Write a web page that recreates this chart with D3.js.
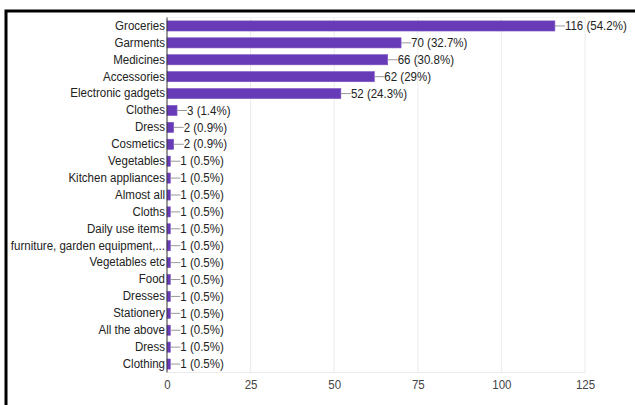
<!DOCTYPE html>
<html><head><meta charset="utf-8">
<script src="https://cdn.jsdelivr.net/npm/d3@7"></script>
<style>
body{margin:0;background:#fff;}
svg{display:block;font-family:"Liberation Sans",Arial,sans-serif;}
</style></head>
<body>
<svg id="c" width="635" height="405"></svg>
<script>
const categories = ["Groceries","Garments","Medicines","Accessories","Electronic gadgets","Clothes","Dress","Cosmetics","Vegetables","Kitchen appliances","Almost all","Cloths","Daily use items","furniture, garden equipment,...","Vegetables etc","Food","Dresses","Stationery","All the above","Dress","Clothing"];
const values = [116,70,66,62,52,3,2,2,1,1,1,1,1,1,1,1,1,1,1,1,1];
const percents = ["54.2%","32.7%","30.8%","29%","24.3%","1.4%","0.9%","0.9%","0.5%","0.5%","0.5%","0.5%","0.5%","0.5%","0.5%","0.5%","0.5%","0.5%","0.5%","0.5%","0.5%"];
const xTicks = [0,25,50,75,100,125];
const FS = 12, SX = 0.96;

const svg = d3.select("#c");
// outer frame
svg.append("rect").attr("x",6).attr("y",11).attr("width",700).attr("height",500)
  .attr("fill","none").attr("stroke","#000").attr("stroke-width",3);

const m = {left:167, right:585, top:17.5, bottom:372.5};
const x = d3.scaleLinear().domain([0,125]).range([m.left,m.right]);
const idx = d3.range(categories.length);
const y = d3.scaleBand().domain(idx).range([m.top,m.bottom]).paddingInner(0.4).paddingOuter(0.2);

// gridlines
svg.append("g").selectAll("line").data(xTicks.slice(1)).join("line")
  .attr("x1",d=>x(d)).attr("x2",d=>x(d)).attr("y1",m.top).attr("y2",m.bottom)
  .attr("stroke","#ebebeb").attr("stroke-width",1);
svg.append("line").attr("x1",m.left).attr("x2",m.right).attr("y1",m.bottom).attr("y2",m.bottom)
  .attr("stroke","#ebebeb");
svg.append("line").attr("x1",m.left).attr("x2",m.right).attr("y1",m.top).attr("y2",m.top)
  .attr("stroke","#f3f3f3");

// x axis
const xa = svg.append("g").attr("transform",`translate(0,${m.bottom})`)
  .call(d3.axisBottom(x).tickValues(xTicks).tickSize(0).tickPadding(8));
xa.select(".domain").remove();
xa.selectAll("text").attr("fill","#444").attr("font-size",FS)
  .attr("font-family","Liberation Sans, Arial, sans-serif")
  .attr("transform",`scale(${SX},1)`);

// bars
svg.append("g").selectAll("rect").data(idx).join("rect")
  .attr("x",x(0)).attr("y",i=>y(i)).attr("width",i=>x(values[i])-x(0)).attr("height",y.bandwidth())
  .attr("fill","#673ab7").attr("stroke","#7e57c2").attr("stroke-width",0.6);

// leader lines & value labels
const lg = svg.append("g");
idx.forEach(i=>{
  const xe = x(values[i]);
  const cy = y(i)+y.bandwidth()/2;
  lg.append("line").attr("x1",xe).attr("x2",xe+10).attr("y1",cy).attr("y2",cy)
    .attr("stroke","#999").attr("stroke-width",1);
  lg.append("g").attr("transform",`translate(${xe+10},${cy}) scale(${SX},1)`)
    .append("text").attr("dy","0.35em")
    .attr("font-size",FS).attr("fill","#222")
    .text(`${values[i]} (${percents[i]})`);
});

// y axis labels
const ya = svg.append("g").attr("transform",`translate(${m.left},0)`)
  .call(d3.axisLeft(y).tickFormat(i=>categories[i]).tickSize(0).tickPadding(2));
ya.select(".domain").remove();
ya.selectAll("text").attr("fill","#222").attr("font-size",FS)
  .attr("font-family","Liberation Sans, Arial, sans-serif")
  .attr("x",-2/SX).attr("transform",`scale(${SX},1)`);

// zero baseline
svg.append("line").attr("x1",x(0)).attr("x2",x(0)).attr("y1",m.top).attr("y2",m.bottom)
  .attr("stroke","#333").attr("stroke-width",1);
</script>
</body></html>
